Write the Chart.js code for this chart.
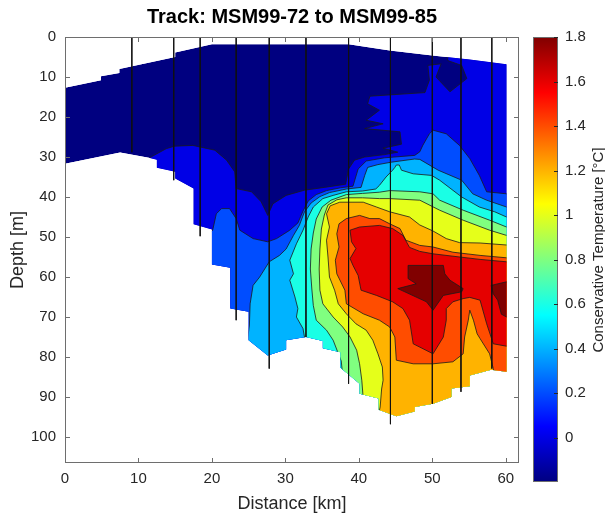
<!DOCTYPE html>
<html>
<head>
<meta charset="utf-8">
<script src="https://cdn.jsdelivr.net/npm/chart.js@4"></script>
<style>
    body { margin: 0; background: #fff; }
    #wrap { position: relative; width: 605px; height: 516px; }
    #wrap canvas { position: absolute; top: 0; }
</style>
</head>
<body>
<div id="wrap">
    <canvas id="sectionChart" width="605" height="516" style="left:0"></canvas>
    <canvas id="colorbar" width="85" height="516" style="left:520px"></canvas>
</div>
<script>
// colour limits of the section (Conservative Temperature, degC)
const cMin = -0.2;
const cMax = 1.8;

// CTD casts: distance along track [km] and deepest sample [m]
const stationKm = [9.1, 14.8, 18.4, 23.3, 27.8, 32.8, 38.6, 44.3, 50.0, 53.9, 58.1];
const stationDepth = [28.8, 35.8, 49.8, 70.8, 82.9, 75.0, 86.7, 96.8, 91.7, 88.7, 82.9];

// edges of the gridded data [km, m]
const surfaceEdge = [[0, 12.7], [4.9, 10.8], [4.9, 9.8], [7.4, 9.0], [7.4, 8.0], [15, 5.0], [15, 3.9], [20, 1.8],
    [38.6, 1.8], [44.2, 3.4], [50, 4.6], [55.1, 5.6], [60.1, 6.8]];
const seabedEdge = [[0, 31.7], [7.5, 28.9], [11.4, 30.2], [12.5, 30.7], [12.5, 32.7], [15, 33.7], [15, 35.4], [17.5, 37.9],
    [17.5, 46.8], [20, 48.1], [20, 56.9], [22.5, 57.7], [22.5, 67.9], [25, 68.7], [25, 75.8], [27.6, 79.6], [30.1, 78.1],
    [30.1, 75.8], [32.8, 75], [35.1, 76.0], [35.1, 77.8], [37.5, 78.8], [37.5, 82.7], [40.1, 86.7], [40.1, 89.2],
    [42.7, 90.4], [42.7, 93.2], [45.1, 94.8], [47.6, 93.6], [47.6, 92.5], [50.1, 91.7], [52.6, 90], [52.6, 87.9],
    [55.1, 87.3], [55.1, 84.6], [58, 83.2], [60.1, 83.7]];

// isolines [km, m], warm side to the right / below
const iso00 = [[11.0, 31.6], [11.5, 30.2], [13.8, 27.9], [14.9, 27.3], [17.4, 27.1], [20.4, 28.3], [22.0, 30.8], [23.1, 33.7],
    [23.3, 37.9], [25.4, 38.7], [26.7, 41.2], [27.6, 44.6], [28.3, 41.7], [30.1, 39.6], [32.6, 38.3], [35.3, 37.6],
    [38.2, 36.8], [38.6, 33], [39.4, 30.8], [40.8, 30], [43.5, 29.4], [45.3, 28.8], [43.3, 27.8], [45.8, 26.8],
    [45.6, 23.7], [40.8, 22.9], [43.3, 21.7], [41, 20.8], [42.8, 18.3], [41.2, 16.7], [41.5, 14.8], [49, 13.9],
    [49.6, 10.8], [49.4, 7.1], [51.2, 6.7], [50.5, 10], [52.4, 13.7], [54.7, 10.4], [54, 7.1], [52.1, 5.9], [52, -2]];
const iso02 = [[19.5, 49.5], [20.1, 48.3], [20.6, 44.2], [21.3, 42.9], [22.4, 42.9], [23.3, 45.4], [23.8, 48.3], [25.6, 50.4],
    [27.6, 51.2], [28.8, 50.4], [30.6, 48.3], [31.7, 46.5], [32.4, 43.5], [33.1, 41], [34.2, 39.4], [35.6, 38.4],
    [37.5, 37.7], [39.2, 37.3], [39.9, 33], [41, 31.0], [43.5, 30.2], [47.6, 29.6], [48.3, 28.7], [48.7, 27.1],
    [49.6, 24.2], [50.1, 23.3], [51.9, 24.2], [53.7, 27.1], [55.1, 30.4], [56.4, 34.6], [57.4, 38.7], [60.1, 39.2], [62, 39.2]];
const iso04 = [[24.8, 76.5], [25.1, 72], [25.2, 66.7], [25.6, 62.1], [26.5, 60], [27.8, 56.2], [29.2, 54.6], [30.1, 53],
    [31.1, 49.6], [31.9, 47.1], [32.6, 43.7], [33.5, 41.5], [34.7, 39.9], [36, 38.9], [38.3, 38.0], [40.3, 37.6],
    [40.8, 34.6], [41.2, 32.6], [42.6, 31.9], [44.4, 31.3], [47.6, 30.5], [48.3, 30.6], [50.8, 33.3], [54, 35.8],
    [55.5, 39.2], [57.4, 40.8], [60.1, 42.5], [62, 42.5]];
const iso06 = [[32.4, 76.8], [32.6, 75], [32.4, 72.9], [31.5, 70], [31.7, 67.9], [31.3, 65], [30.6, 60.8], [31.1, 59.2],
    [30.6, 55.8], [31.5, 51.7], [32.4, 48.3], [33.1, 45], [33.8, 42.5], [35.1, 40.4], [36.5, 39.6], [38.3, 38.7],
    [40.5, 38.5], [42.3, 38], [42.8, 37.1], [43.7, 35], [44.6, 33.3], [44.9, 32.6], [45.1, 32.0], [45.5, 32.0],
    [45.8, 33.3], [47.4, 34.2], [49.9, 34.6], [51, 35.8], [54, 40], [56.4, 42.5], [58.5, 43.7], [60.1, 45], [62, 45]];
const iso08 = [[37.8, 84.5], [37.6, 81], [36.5, 75.8], [35.6, 73.3], [34.2, 70.8], [33.8, 67.1], [33.6, 63], [33.4, 58],
    [33.5, 53], [33.8, 49], [34.2, 45.5], [35, 42.5], [36.2, 40.8], [38.3, 39.4], [40.5, 39.1], [42.8, 38.8],
    [44.2, 38.4], [48.3, 38.7], [50.1, 39.2], [51, 40.8], [54.2, 43.3], [57.8, 45.8], [60.1, 47.5], [62, 47.5]];
const iso10 = [[40.6, 90.5], [40.4, 85.8], [40.1, 81.7], [39.7, 78.3], [38.8, 75], [37.8, 72.5], [36.5, 70], [35.1, 66.7],
    [34.7, 63.3], [34.6, 58], [34.7, 53], [34.9, 48], [35.3, 44.5], [35.8, 42], [37, 40.7], [38.3, 40.2], [40.5, 40.2],
    [42.8, 40.4], [44.2, 40.4], [48.3, 40.8], [51, 43.3], [54.2, 45.8], [57.8, 48.3], [60.1, 49.6], [62, 49.6]];
const iso12 = [[42.6, 95], [42.9, 92.5], [43.1, 88], [43.3, 85.8], [43.2, 82.5], [42.6, 79.2], [41.9, 75.8], [41, 73.3],
    [39.6, 71.7], [38.3, 69.2], [37.2, 66.7], [36.7, 63.3], [36, 60], [35.8, 55], [35.6, 50.8], [36, 47.5], [35.6, 44.2],
    [36.1, 42.2], [37.4, 41.3], [40.6, 41.3], [42.4, 42.5], [44.2, 43.7], [46.9, 45], [48.3, 47], [50.1, 48.5],
    [51.9, 50.4], [53.7, 51.4], [56.5, 51.5], [60.1, 52], [62, 52]];
const iso14 = [[58.5, 86], [58.3, 82.9], [57.8, 79.2], [56.5, 75.4], [56.1, 74.2], [55.6, 70.8], [55.1, 68.3], [54.9, 70.8],
    [54.4, 75], [54.2, 79.2], [52.8, 81.2], [50.1, 81.7], [47.4, 81.7], [45.1, 80.8], [44.9, 75], [44.2, 72.5],
    [42.8, 70.8], [40.6, 69.2], [38.3, 66.7], [38.1, 63.3], [37, 59.2], [36.8, 55.8], [37.3, 52.5], [37, 49.2],
    [37.3, 46.7], [38.3, 45.4], [40.1, 44.6], [41.5, 45.4], [42.8, 45.4], [44.2, 46.7], [45.6, 47.9], [46.4, 50.8],
    [48.3, 52.1], [50.1, 52.5], [52.8, 53.8], [56.5, 54.6], [60.1, 55.2], [62, 55.2]];
const iso16 = [[62, 56.2], [60.1, 56.2], [56.5, 55.6], [52.8, 54.8], [50.1, 54.2], [48.3, 53.6], [46.9, 52.6], [46, 49.6],
    [44.6, 47.9], [42.8, 47.1], [40.1, 47.5], [38.8, 48.3], [39, 51.2], [39.6, 52.9], [38.8, 55.4], [39.2, 57.1],
    [39.9, 59.6], [40.3, 63.3], [42.4, 64.6], [44.6, 66.2], [46, 67.9], [46.9, 70.8], [47.4, 76.7], [50.1, 79.2],
    [51.5, 75], [51.9, 70.8], [51.9, 67.9], [52.8, 66.2], [54.2, 65.4], [55.1, 65.1], [56.5, 65.8], [57.4, 71.7],
    [58.3, 76.7], [60.1, 77.3], [62, 77.3]];
const iso18a = [[46.7, 57.1], [51.5, 57.1], [51.7, 59.2], [52.4, 60.8], [54.2, 62.9], [54, 63.7], [51.5, 64.6], [50.1, 68.3],
    [49.2, 66.2], [45.3, 62.9], [47.8, 61.7], [46.7, 60.4]];
const iso18b = [[62, 61.2], [60.1, 61.2], [58, 62.1], [58.3, 64.2], [58.9, 65.8], [59.4, 69.3], [60.1, 70], [62, 70]];

const openIsolines = [[0, iso00], [0.2, iso02], [0.4, iso04], [0.6, iso06], [0.8, iso08], [1.0, iso10],
    [1.2, iso12], [1.4, iso14], [1.6, iso16], [1.8, iso18b]];
const closedIsolines = [[1.8, iso18a]];

const axisColor = '#262626';
const fontFamily = "'Liberation Sans', Arial, sans-serif";

function jet(t) {
    const c = v => Math.round(255 * Math.max(0, Math.min(1, v)));
    return 'rgb(' + c(1.5 - Math.abs(4 * t - 3)) + ',' + c(1.5 - Math.abs(4 * t - 2)) + ',' + c(1.5 - Math.abs(4 * t - 1)) + ')';
}

function levelColor(v) {
    return jet((v - cMin) / (cMax - cMin));
}

function tracePath(ctx, pts, x, y) {
    pts.forEach(function (p, i) {
        const px = x.getPixelForValue(p[0]);
        const py = y.getPixelForValue(p[1]);
        if (i === 0) ctx.moveTo(px, py); else ctx.lineTo(px, py);
    });
}

// filled contours, clipped to where there is data
const contourPlugin = {
    id: 'contourFill',
    beforeDatasetsDraw(chart) {
        const ctx = chart.ctx;
        const x = chart.scales.x, y = chart.scales.y;
        const outline = surfaceEdge.concat(seabedEdge.slice().reverse());

        ctx.save();
        ctx.beginPath();
        tracePath(ctx, outline, x, y);
        ctx.closePath();
        ctx.clip();

        ctx.fillStyle = levelColor(cMin);
        ctx.fill();

        openIsolines.forEach(function (iso) {
            const pts = iso[1];
            const last = pts[pts.length - 1];
            const ring = pts.concat([[70, last[1]], [70, 130], [pts[0][0], 130]]);
            ctx.beginPath();
            tracePath(ctx, ring, x, y);
            ctx.closePath();
            ctx.fillStyle = levelColor(iso[0]);
            ctx.fill();
        });
        closedIsolines.forEach(function (iso) {
            ctx.beginPath();
            tracePath(ctx, iso[1], x, y);
            ctx.closePath();
            ctx.fillStyle = levelColor(iso[0]);
            ctx.fill();
        });

        ctx.strokeStyle = '#1a1a1a';
        ctx.lineWidth = 0.8;
        ctx.lineJoin = 'round';
        openIsolines.forEach(function (iso) {
            ctx.beginPath();
            tracePath(ctx, iso[1], x, y);
            ctx.stroke();
        });
        closedIsolines.forEach(function (iso) {
            ctx.beginPath();
            tracePath(ctx, iso[1], x, y);
            ctx.closePath();
            ctx.stroke();
        });
        ctx.restore();
    }
};

// box and inward ticks on all four sides
const framePlugin = {
    id: 'frame',
    afterDraw(chart) {
        const ctx = chart.ctx;
        const a = chart.chartArea;
        const x = chart.scales.x, y = chart.scales.y;
        ctx.save();
        ctx.strokeStyle = '#6e6e6e';
        ctx.lineWidth = 1;
        ctx.strokeRect(a.left + 0.5, a.top + 0.5, a.right - a.left - 1, a.bottom - a.top - 1);
        ctx.beginPath();
        x.ticks.forEach(function (t) {
            const px = Math.round(x.getPixelForValue(t.value)) + 0.5;
            ctx.moveTo(px, a.bottom); ctx.lineTo(px, a.bottom - 5);
            ctx.moveTo(px, a.top); ctx.lineTo(px, a.top + 5);
        });
        y.ticks.forEach(function (t) {
            const py = Math.round(y.getPixelForValue(t.value)) + 0.5;
            ctx.moveTo(a.left, py); ctx.lineTo(a.left + 5, py);
            ctx.moveTo(a.right, py); ctx.lineTo(a.right - 5, py);
        });
        ctx.stroke();
        ctx.restore();
    }
};

new Chart(document.getElementById('sectionChart'), {
    type: 'scatter',
    data: {
        datasets: stationKm.map(function (km, i) {
            return {
                data: [{x: km, y: 0}, {x: km, y: stationDepth[i]}],
                showLine: true,
                borderColor: '#111',
                borderWidth: 0.9,
                pointRadius: 0,
                clip: false
            };
        })
    },
    options: {
        responsive: false,
        animation: false,
        layout: {padding: {left: 0, top: 0, right: 86, bottom: 0}},
        plugins: {
            legend: {display: false},
            tooltip: {enabled: false},
            title: {
                display: true,
                fullSize: false,
                text: 'Track: MSM99-72 to MSM99-85',
                color: '#000',
                font: {family: fontFamily, size: 20, weight: 'bold', lineHeight: 1.2},
                padding: {top: 5, bottom: 8}
            }
        },
        scales: {
            x: {
                type: 'linear',
                min: 0,
                max: 61.8,
                grid: {display: false, drawTicks: false},
                border: {display: false},
                ticks: {stepSize: 10, includeBounds: false, maxRotation: 0, padding: 7, color: axisColor,
                    font: {family: fontFamily, size: 15}},
                title: {display: true, text: 'Distance [km]', color: axisColor,
                    font: {family: fontFamily, size: 18}, padding: {top: 0, bottom: 1}},
                afterFit: function (scale) { scale.height = 53; }
            },
            y: {
                type: 'linear',
                reverse: true,
                min: 0,
                max: 106.5,
                grid: {display: false, drawTicks: false},
                border: {display: false},
                ticks: {stepSize: 10, includeBounds: false, padding: 9, color: axisColor,
                    font: {family: fontFamily, size: 15}},
                title: {display: true, text: 'Depth [m]', color: axisColor,
                    font: {family: fontFamily, size: 18}, padding: {top: 7, bottom: 0}},
                afterFit: function (scale) { scale.width = 65; }
            }
        }
    },
    plugins: [contourPlugin, framePlugin]
});

// colour bar: jet ramp on its own value axis
const colorbarPlugin = {
    id: 'colorbarRamp',
    beforeDraw(chart) {
        const ctx = chart.ctx;
        const a = chart.chartArea;
        const y = chart.scales.y;
        const grad = ctx.createLinearGradient(0, a.bottom, 0, a.top);
        [0, 0.125, 0.375, 0.625, 0.875, 1].forEach(function (t) { grad.addColorStop(t, jet(t)); });
        ctx.save();
        ctx.fillStyle = grad;
        ctx.fillRect(a.left, a.top, a.right - a.left, a.bottom - a.top);
        ctx.strokeStyle = '#6e6e6e';
        ctx.lineWidth = 1;
        ctx.strokeRect(a.left + 0.5, a.top + 0.5, a.right - a.left - 1, a.bottom - a.top - 1);
        ctx.beginPath();
        y.ticks.forEach(function (t) {
            const py = Math.round(y.getPixelForValue(t.value)) + 0.5;
            ctx.moveTo(a.right, py); ctx.lineTo(a.right - 4, py);
        });
        ctx.strokeStyle = axisColor;
        ctx.stroke();
        ctx.translate(79, 250);
        ctx.rotate(-Math.PI / 2);
        ctx.fillStyle = axisColor;
        ctx.font = '15px ' + fontFamily;
        ctx.textAlign = 'center';
        ctx.textBaseline = 'middle';
        ctx.fillText('Conservative Temperature [\u00B0C]', 0, 0);
        ctx.restore();
    }
};

new Chart(document.getElementById('colorbar'), {
    type: 'scatter',
    data: {datasets: []},
    options: {
        responsive: false,
        animation: false,
        layout: {padding: {left: 13, top: 37, right: 0, bottom: 34}},
        plugins: {legend: {display: false}, tooltip: {enabled: false}},
        scales: {
            x: {display: false},
            y: {
                position: 'right',
                min: cMin,
                max: cMax,
                grid: {display: false, drawTicks: false},
                border: {display: false},
                ticks: {stepSize: 0.2, includeBounds: false, padding: 7, color: axisColor,
                    font: {family: fontFamily, size: 15},
                    callback: function (v) { return String(Math.round(v * 10) / 10); }},
                afterBuildTicks: function (scale) {
                    scale.ticks = scale.ticks.filter(function (t) { return t.value > -0.01; });
                },
                afterFit: function (scale) { scale.width = 47; }
            }
        }
    },
    plugins: [colorbarPlugin]
});
</script>
</body>
</html>
